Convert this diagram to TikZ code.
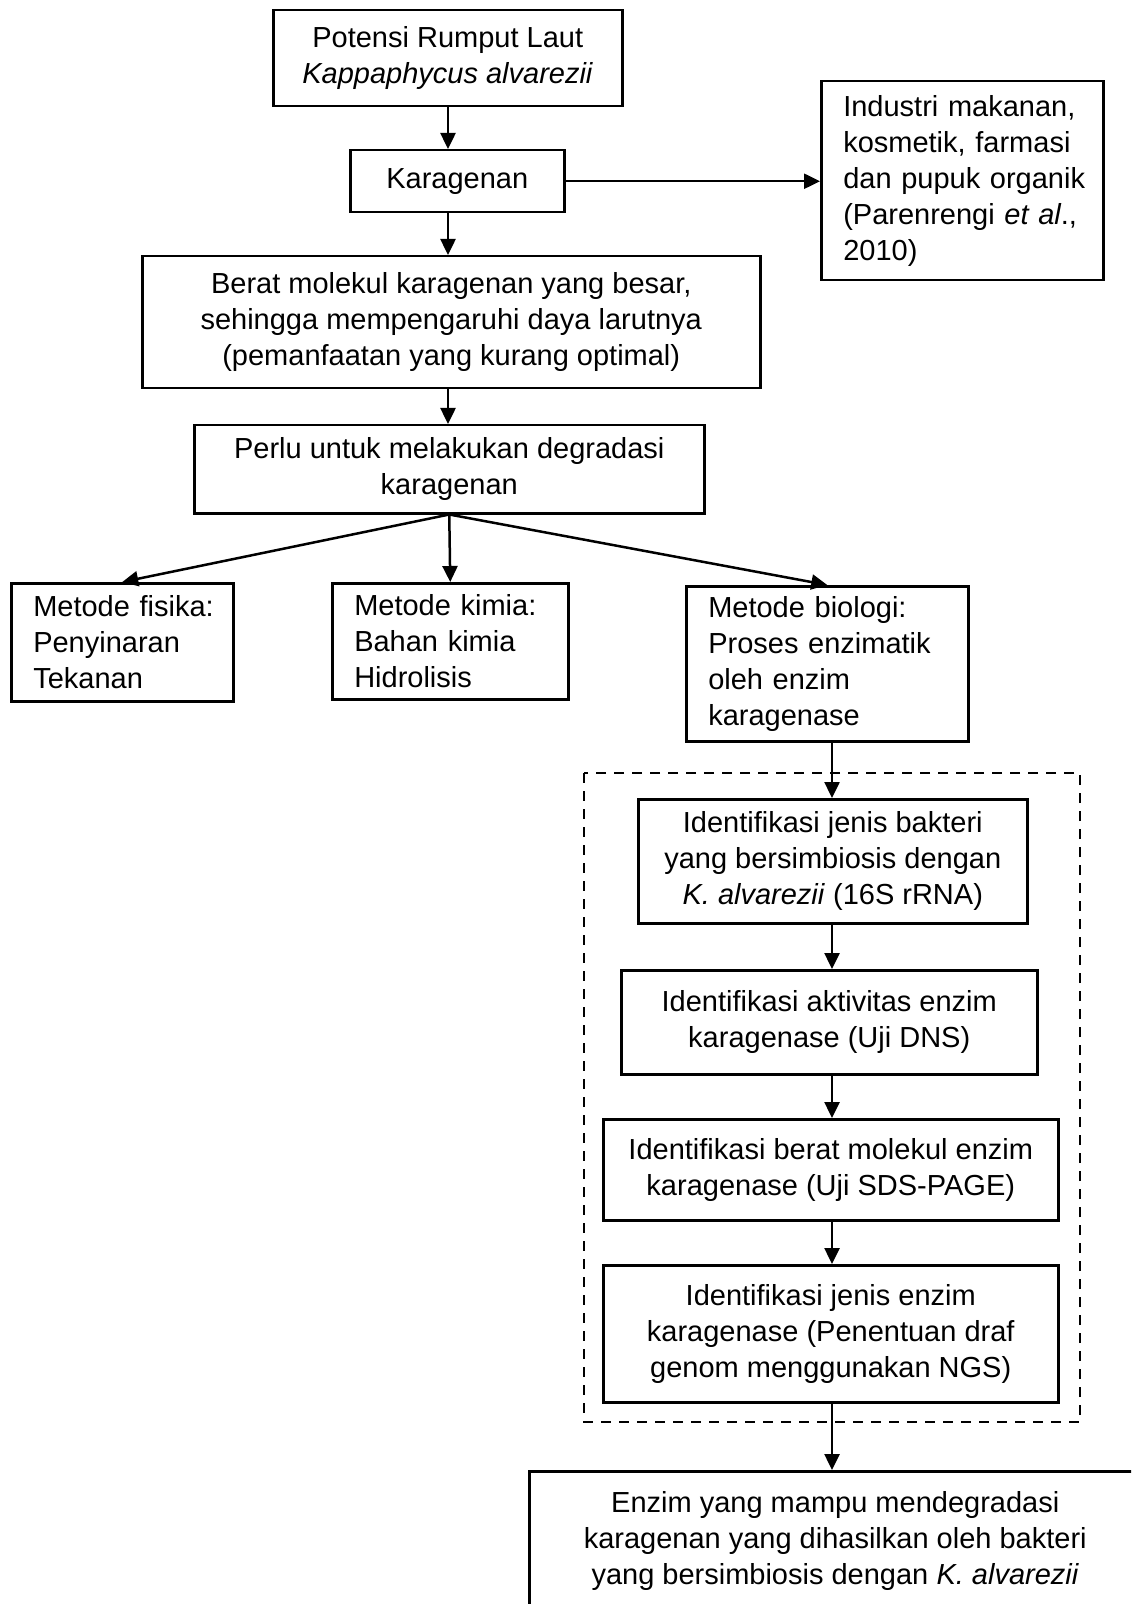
\documentclass[tikz,border=0pt]{standalone}
\usepackage{fontspec}
\setmainfont{Liberation Sans}
\usetikzlibrary{arrows.meta, positioning}
\hyphenpenalty=10000

\begin{document}
\begin{tikzpicture}[x=0.5pt, y=-0.5pt]
    \tikzset{
        flowbox/.style={rectangle, draw, line width=1.25pt, anchor=north west, align=center,
            inner sep=0pt, font=\fontsize{14.5}{18}\selectfont},
        leftbox/.style={flowbox, align=left, inner xsep=11pt},
        flowarrow/.style={line width=1.25pt, -{Triangle[length=8pt, width=7.5pt]}},
    }
    \useasboundingbox (0,0) rectangle (1131,1604);
    \clip (0,0) rectangle (1131,1604);

    % arrow columns
    \coordinate (colleft) at (448,0);
    \coordinate (colright) at (832,0);

    % Main column
    \node[flowbox, minimum width=174.5pt, minimum height=48pt] (potensi) at (272,9)
        {Potensi Rumput Laut\\\textit{Kappaphycus alvarezii}};
    \node[flowbox, minimum width=107pt, minimum height=31pt] (karagenan) at (349,149) {Karagenan};
    \node[leftbox, text width=119pt, minimum height=99.5pt] (industri) at (820,80)
        {Industri~makanan,\\kosmetik,~farmasi\\dan~pupuk~organik\\(Parenrengi~\textit{et~al}.,\\2010)};
    \node[flowbox, minimum width=309pt, minimum height=66pt] (berat) at (141,255)
        {Berat molekul karagenan yang besar,\\sehingga mempengaruhi daya larutnya\\(pemanfaatan yang kurang optimal)};
    \node[flowbox, minimum width=255pt, minimum height=44pt] (perlu) at (193,424)
        {Perlu untuk melakukan degradasi\\karagenan};

    % Methods
    \node[leftbox, text width=89pt, minimum height=59pt] (fisika) at (10,582)
        {Metode~fisika:\\Penyinaran\\Tekanan};
    \node[leftbox, text width=96pt, minimum height=58pt] (kimia) at (331,582)
        {Metode~kimia:\\Bahan~kimia\\Hidrolisis};
    \node[leftbox, text width=119pt, minimum height=77.5pt] (biologi) at (685,585)
        {Metode~biologi:\\Proses~enzimatik\\oleh~enzim\\karagenase};

    % Identification steps
    \draw[line width=1.25pt, dash pattern=on 5pt off 4pt] (584,773) rectangle (1080,1422);
    \node[flowbox, minimum width=194.5pt, minimum height=62pt] (bakteri) at (637,798)
        {Identifikasi jenis bakteri\\yang bersimbiosis dengan\\\textit{K. alvarezii} (16S rRNA)};
    \node[flowbox, minimum width=208pt, minimum height=52pt] (aktivitas) at (620,969)
        {Identifikasi aktivitas enzim\\karagenase (Uji DNS)};
    \node[flowbox, minimum width=227.5pt, minimum height=50.5pt] (molekul) at (602,1118)
        {Identifikasi berat molekul enzim\\karagenase (Uji SDS-PAGE)};
    \node[flowbox, minimum width=227.5pt, minimum height=68.5pt] (jenis) at (602,1264)
        {Identifikasi jenis enzim\\karagenase (Penentuan draf\\genom menggunakan NGS)};
    \node[flowbox, minimum width=306pt, minimum height=70pt] (hasil) at (528,1470)
        {Enzim yang mampu mendegradasi\\karagenan yang dihasilkan oleh bakteri\\yang bersimbiosis dengan \textit{K. alvarezii}};

    % Arrows
    \draw[flowarrow] (potensi.south -| colleft) -- (karagenan.north -| colleft);
    \draw[flowarrow] (karagenan.east) -- (karagenan.east -| industri.west);
    \draw[flowarrow] (karagenan.south -| colleft) -- (berat.north -| colleft);
    \draw[flowarrow] (berat.south -| colleft) -- (perlu.north -| colleft);
    \draw[flowarrow] (perlu.south) -- (fisika.north);
    \draw[flowarrow] (perlu.south) -- (kimia.north);
    \draw[flowarrow] (perlu.south) -- (biologi.north);
    \draw[flowarrow] (biologi.south -| colright) -- (bakteri.north -| colright);
    \draw[flowarrow] (bakteri.south -| colright) -- (aktivitas.north -| colright);
    \draw[flowarrow] (aktivitas.south -| colright) -- (molekul.north -| colright);
    \draw[flowarrow] (molekul.south -| colright) -- (jenis.north -| colright);
    \draw[flowarrow] (jenis.south -| colright) -- (hasil.north -| colright);
\end{tikzpicture}
\end{document}
